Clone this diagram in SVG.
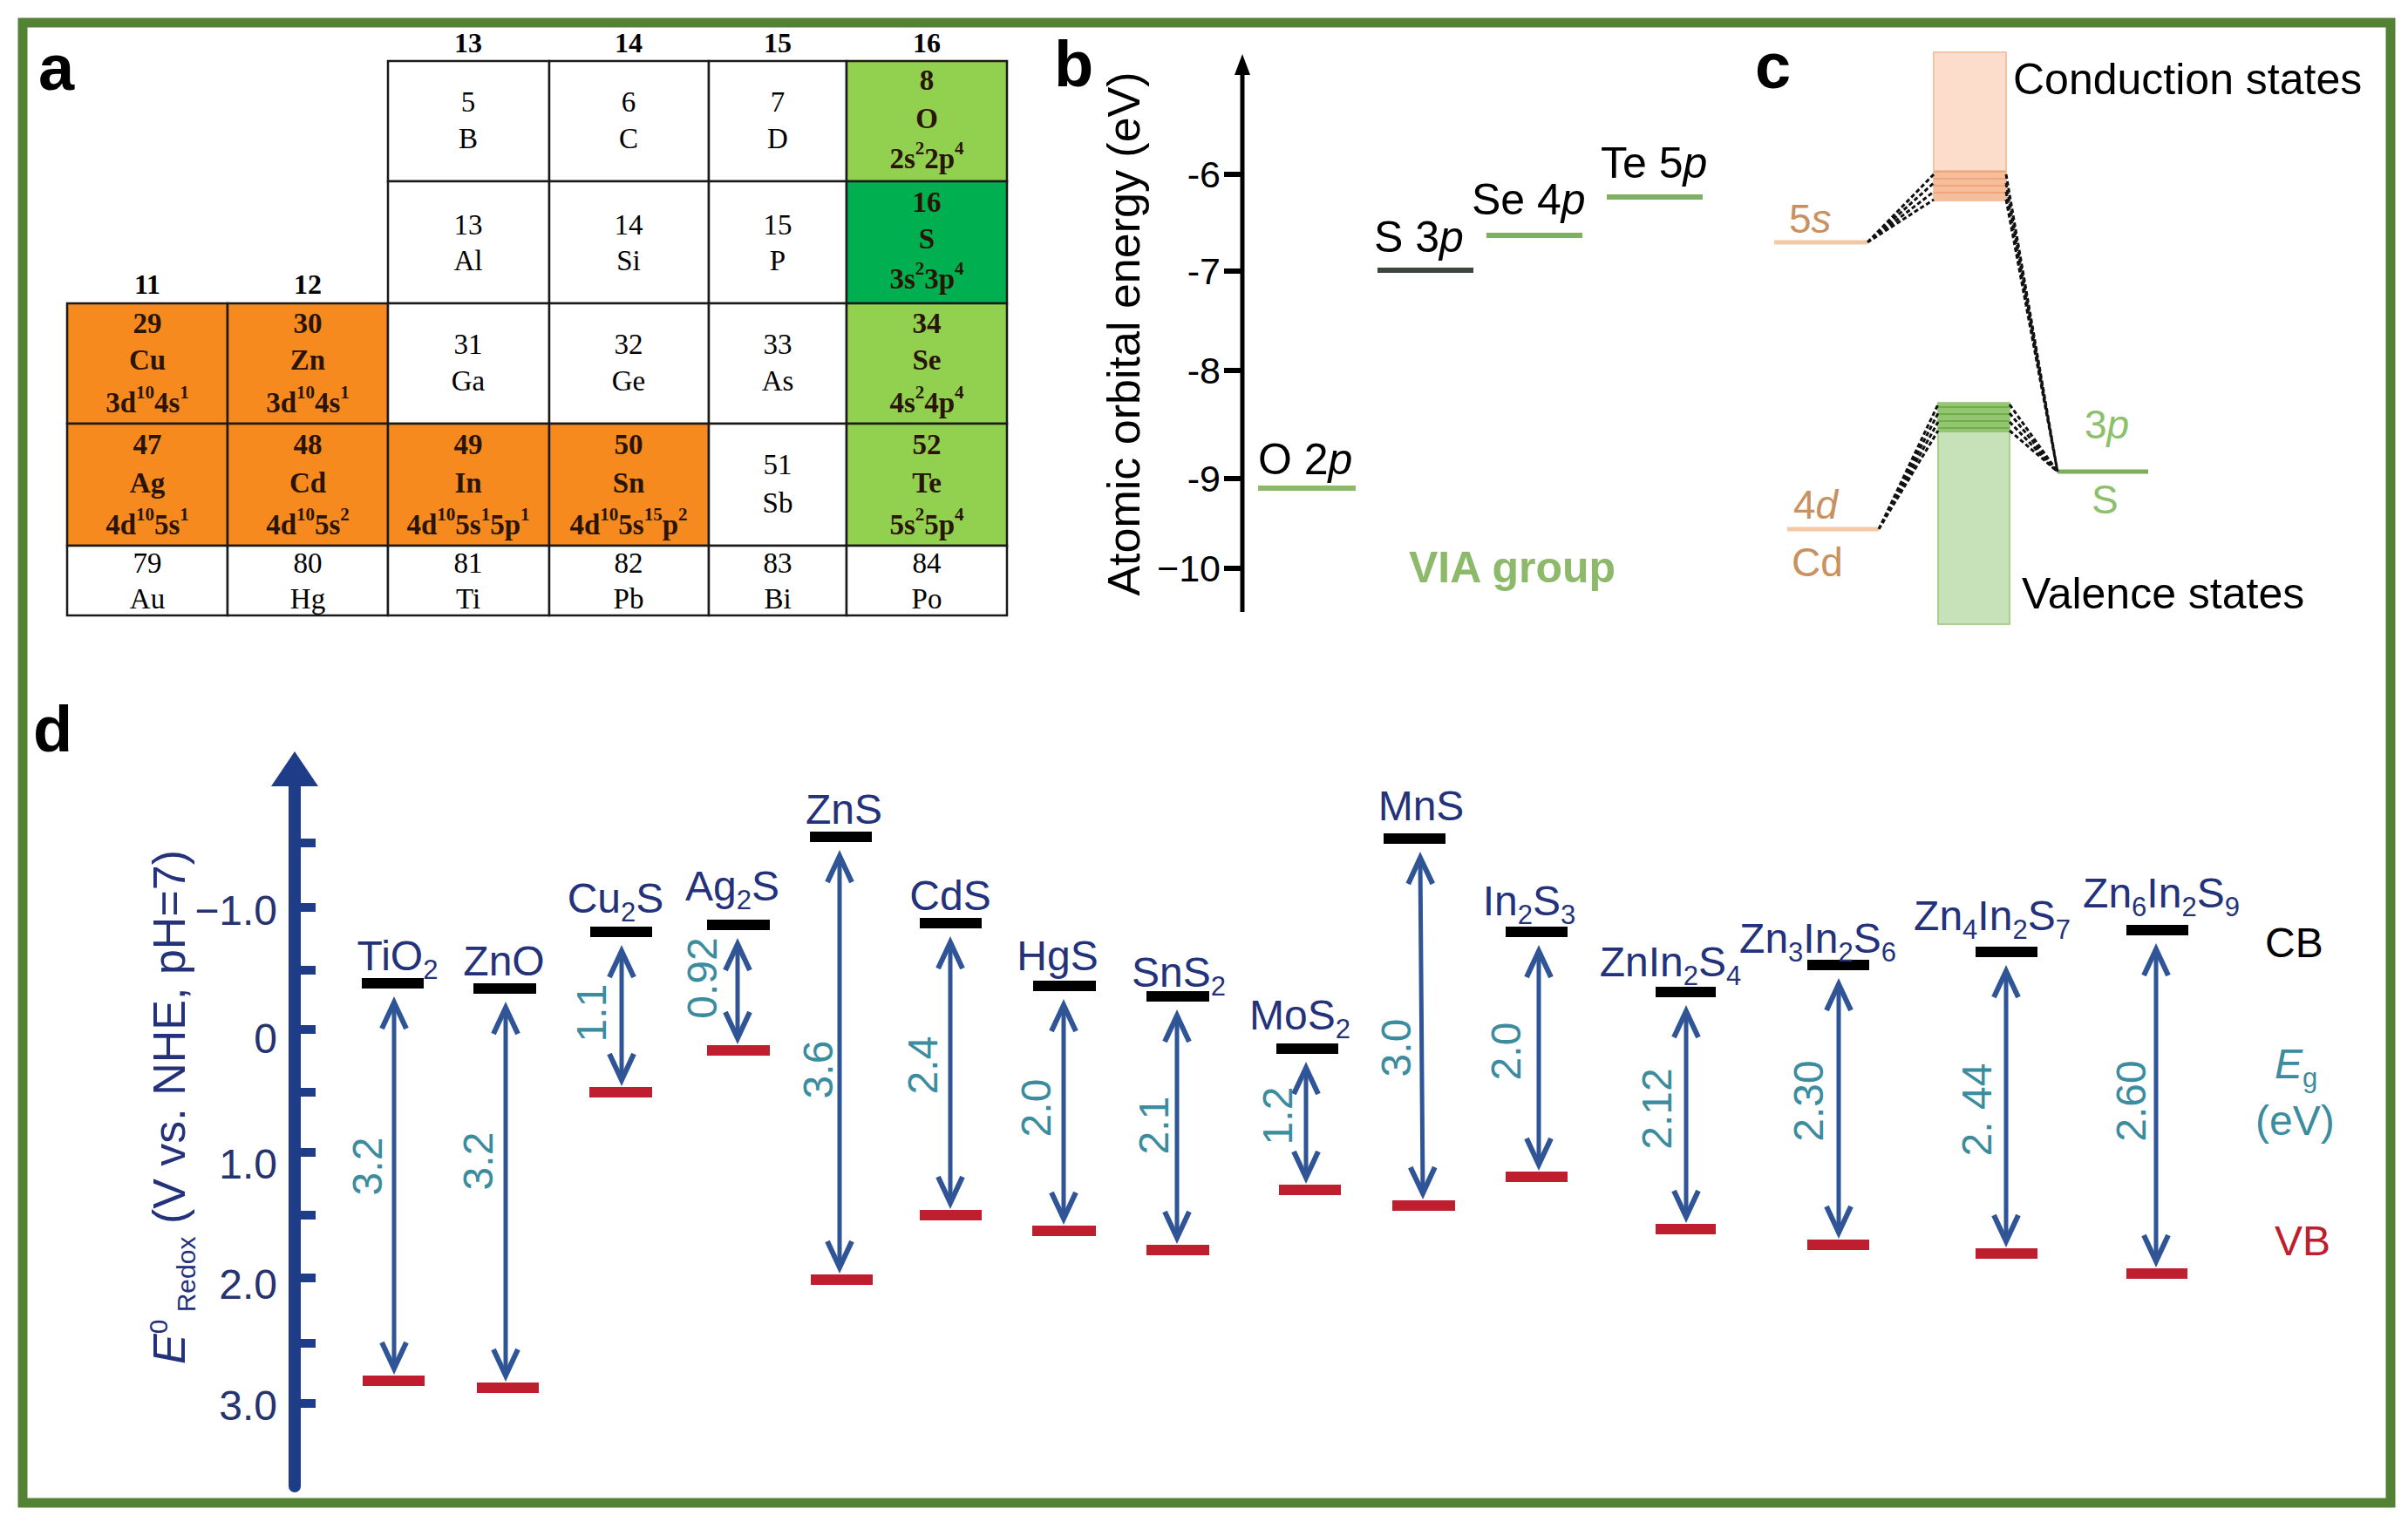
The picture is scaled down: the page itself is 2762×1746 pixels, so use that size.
<svg xmlns="http://www.w3.org/2000/svg" width="2762" height="1746" viewBox="0 0 2762 1746">
<defs>
<style>
.sans{font-family:"Liberation Sans",Arial,Helvetica,sans-serif}
.plabel{font-family:"Liberation Sans",Arial,sans-serif;font-weight:bold;font-size:74px;fill:#000}
.cell rect{stroke:#1a1a1a;stroke-width:2.5}
.cell text{font-family:"Liberation Serif","Times New Roman",serif;font-size:33px;text-anchor:middle;fill:#000}
.cell.b text{font-weight:bold;fill:#2A1405}
.sp{font-size:21px}
.or{fill:#F68A1F}.lg{fill:#92D050}.dg{fill:#00B050}.wh{fill:#fff}
.grp{font-family:"Liberation Serif","Times New Roman",serif;font-size:32px;font-weight:bold;text-anchor:middle;fill:#000}
.cb{fill:#000}.vb{fill:#BE1E2D}
.mat{font-family:"Liberation Sans",Arial,sans-serif;font-size:48px;fill:#23327A;text-anchor:middle}
.sub{font-size:31px}
.eg{font-family:"Liberation Sans",Arial,sans-serif;font-size:48px;fill:#3A8C9E;text-anchor:middle}
.arr{stroke:#2F5597;stroke-width:5;fill:none;marker-start:url(#ah);marker-end:url(#ah)}
.dash{stroke:#111;stroke-width:3;stroke-dasharray:5 3;fill:none}
.btxt{font-family:"Liberation Sans",Arial,sans-serif;font-size:50px;fill:#000}
.tick{font-family:"Liberation Sans",Arial,sans-serif;font-size:43px;fill:#000;text-anchor:end}
.dtick{font-family:"Liberation Sans",Arial,sans-serif;font-size:48px;fill:#26336E;text-anchor:end}
.ctxt{font-family:"Liberation Sans",Arial,sans-serif;font-size:50px;fill:#000}
.tan{font-family:"Liberation Sans",Arial,sans-serif;font-size:46px;fill:#C8915F}
.grn{font-family:"Liberation Sans",Arial,sans-serif;font-size:46px;fill:#8DC06A}
</style>
<marker id="ah" viewBox="-36 -20 44 40" refX="0" refY="0" markerWidth="44" markerHeight="40" markerUnits="userSpaceOnUse" orient="auto-start-reverse">
<path d="M-30,-14 L0,0 L-30,14" fill="none" stroke="#2F5597" stroke-width="6"/>
</marker>
</defs>
<rect x="0" y="0" width="2762" height="1746" fill="#fff"/>
<rect x="26" y="26" width="2716" height="1698" fill="none" stroke="#548235" stroke-width="11"/>

<!-- Panel labels -->
<text class="plabel" x="44" y="103">a</text>
<text class="plabel" x="1209" y="99">b</text>
<text class="plabel" x="2013" y="101">c</text>
<text class="plabel" x="38" y="862">d</text>

<!-- Panel a: periodic table -->
<g id="panel-a">
<text class="grp" x="537" y="60">13</text>
<text class="grp" x="721" y="60">14</text>
<text class="grp" x="892" y="60">15</text>
<text class="grp" x="1063" y="60">16</text>
<text class="grp" x="169" y="337">11</text>
<text class="grp" x="353" y="337">12</text>

<g id="cell-B" class="cell"><rect class="wh" x="445" y="70" width="185" height="138"/><text x="537" y="128">5</text><text x="537" y="170">B</text></g>
<g id="cell-C" class="cell"><rect class="wh" x="630" y="70" width="183" height="138"/><text x="721" y="128">6</text><text x="721" y="170">C</text></g>
<g id="cell-D" class="cell"><rect class="wh" x="813" y="70" width="158" height="138"/><text x="892" y="128">7</text><text x="892" y="170">D</text></g>
<g id="cell-O" class="cell b"><rect class="lg" x="971" y="70" width="184" height="138"/><text x="1063" y="103">8</text><text x="1063" y="147">O</text><text x="1063" y="193">2s<tspan class="sp" dy="-16">2</tspan><tspan dy="16">2p</tspan><tspan class="sp" dy="-16">4</tspan></text></g>

<g id="cell-Al" class="cell"><rect class="wh" x="445" y="208" width="185" height="140"/><text x="537" y="269">13</text><text x="537" y="310">Al</text></g>
<g id="cell-Si" class="cell"><rect class="wh" x="630" y="208" width="183" height="140"/><text x="721" y="269">14</text><text x="721" y="310">Si</text></g>
<g id="cell-P" class="cell"><rect class="wh" x="813" y="208" width="158" height="140"/><text x="892" y="269">15</text><text x="892" y="310">P</text></g>
<g id="cell-S" class="cell b"><rect class="dg" x="971" y="208" width="184" height="140"/><text x="1063" y="243">16</text><text x="1063" y="285">S</text><text x="1063" y="331">3s<tspan class="sp" dy="-16">2</tspan><tspan dy="16">3p</tspan><tspan class="sp" dy="-16">4</tspan></text></g>

<g id="cell-Cu" class="cell b"><rect class="or" x="77" y="348" width="184" height="138"/><text x="169" y="382">29</text><text x="169" y="424">Cu</text><text x="169" y="473">3d<tspan class="sp" dy="-16">10</tspan><tspan dy="16">4s</tspan><tspan class="sp" dy="-16">1</tspan></text></g>
<g id="cell-Zn" class="cell b"><rect class="or" x="261" y="348" width="184" height="138"/><text x="353" y="382">30</text><text x="353" y="424">Zn</text><text x="353" y="473">3d<tspan class="sp" dy="-16">10</tspan><tspan dy="16">4s</tspan><tspan class="sp" dy="-16">1</tspan></text></g>
<g id="cell-Ga" class="cell"><rect class="wh" x="445" y="348" width="185" height="138"/><text x="537" y="406">31</text><text x="537" y="448">Ga</text></g>
<g id="cell-Ge" class="cell"><rect class="wh" x="630" y="348" width="183" height="138"/><text x="721" y="406">32</text><text x="721" y="448">Ge</text></g>
<g id="cell-As" class="cell"><rect class="wh" x="813" y="348" width="158" height="138"/><text x="892" y="406">33</text><text x="892" y="448">As</text></g>
<g id="cell-Se" class="cell b"><rect class="lg" x="971" y="348" width="184" height="138"/><text x="1063" y="382">34</text><text x="1063" y="424">Se</text><text x="1063" y="473">4s<tspan class="sp" dy="-16">2</tspan><tspan dy="16">4p</tspan><tspan class="sp" dy="-16">4</tspan></text></g>

<g id="cell-Ag" class="cell b"><rect class="or" x="77" y="486" width="184" height="140"/><text x="169" y="521">47</text><text x="169" y="565">Ag</text><text x="169" y="613">4d<tspan class="sp" dy="-16">10</tspan><tspan dy="16">5s</tspan><tspan class="sp" dy="-16">1</tspan></text></g>
<g id="cell-Cd" class="cell b"><rect class="or" x="261" y="486" width="184" height="140"/><text x="353" y="521">48</text><text x="353" y="565">Cd</text><text x="353" y="613">4d<tspan class="sp" dy="-16">10</tspan><tspan dy="16">5s</tspan><tspan class="sp" dy="-16">2</tspan></text></g>
<g id="cell-In" class="cell b"><rect class="or" x="445" y="486" width="185" height="140"/><text x="537" y="521">49</text><text x="537" y="565">In</text><text x="537" y="613">4d<tspan class="sp" dy="-16">10</tspan><tspan dy="16">5s</tspan><tspan class="sp" dy="-16">1</tspan><tspan dy="16">5p</tspan><tspan class="sp" dy="-16">1</tspan></text></g>
<g id="cell-Sn" class="cell b"><rect class="or" x="630" y="486" width="183" height="140"/><text x="721" y="521">50</text><text x="721" y="565">Sn</text><text x="721" y="613">4d<tspan class="sp" dy="-16">10</tspan><tspan dy="16">5s</tspan><tspan class="sp" dy="-16">15</tspan><tspan dy="16">p</tspan><tspan class="sp" dy="-16">2</tspan></text></g>
<g id="cell-Sb" class="cell"><rect class="wh" x="813" y="486" width="158" height="140"/><text x="892" y="544">51</text><text x="892" y="588">Sb</text></g>
<g id="cell-Te" class="cell b"><rect class="lg" x="971" y="486" width="184" height="140"/><text x="1063" y="521">52</text><text x="1063" y="565">Te</text><text x="1063" y="613">5s<tspan class="sp" dy="-16">2</tspan><tspan dy="16">5p</tspan><tspan class="sp" dy="-16">4</tspan></text></g>

<g id="cell-Au" class="cell"><rect class="wh" x="77" y="626" width="184" height="80"/><text x="169" y="657">79</text><text x="169" y="698">Au</text></g>
<g id="cell-Hg" class="cell"><rect class="wh" x="261" y="626" width="184" height="80"/><text x="353" y="657">80</text><text x="353" y="698">Hg</text></g>
<g id="cell-Ti" class="cell"><rect class="wh" x="445" y="626" width="185" height="80"/><text x="537" y="657">81</text><text x="537" y="698">Ti</text></g>
<g id="cell-Pb" class="cell"><rect class="wh" x="630" y="626" width="183" height="80"/><text x="721" y="657">82</text><text x="721" y="698">Pb</text></g>
<g id="cell-Bi" class="cell"><rect class="wh" x="813" y="626" width="158" height="80"/><text x="892" y="657">83</text><text x="892" y="698">Bi</text></g>
<g id="cell-Po" class="cell"><rect class="wh" x="971" y="626" width="184" height="80"/><text x="1063" y="657">84</text><text x="1063" y="698">Po</text></g>
</g>

<!-- Panel b -->
<g id="panel-b">
<line x1="1425" y1="702" x2="1425" y2="80" stroke="#000" stroke-width="5"/>
<polygon points="1425,62 1416,86 1434,86" fill="#000"/>
<g stroke="#000" stroke-width="6">
<line x1="1404" y1="200" x2="1425" y2="200"/>
<line x1="1404" y1="311" x2="1425" y2="311"/>
<line x1="1404" y1="425" x2="1425" y2="425"/>
<line x1="1404" y1="549" x2="1425" y2="549"/>
<line x1="1404" y1="652" x2="1425" y2="652"/>
</g>
<text class="tick" x="1400" y="215">-6</text>
<text class="tick" x="1400" y="326">-7</text>
<text class="tick" x="1400" y="440">-8</text>
<text class="tick" x="1400" y="564">-9</text>
<text class="tick" x="1400" y="667">−10</text>
<text class="sans" x="1288" y="402" font-size="52" text-anchor="middle" transform="rotate(-90 1288 383)">Atomic orbital energy (eV)</text>
<g id="lvl-O2p"><line x1="1443" y1="560" x2="1555" y2="560" stroke="#8DB96B" stroke-width="6"/><text class="btxt" x="1443" y="544">O 2<tspan font-style="italic">p</tspan></text></g>
<g id="lvl-S3p"><line x1="1580" y1="310" x2="1690" y2="310" stroke="#3C463C" stroke-width="6"/><text class="btxt" x="1576" y="289">S 3<tspan font-style="italic">p</tspan></text></g>
<g id="lvl-Se4p"><line x1="1705" y1="270" x2="1815" y2="270" stroke="#7FB060" stroke-width="6"/><text class="btxt" x="1688" y="246">Se 4<tspan font-style="italic">p</tspan></text></g>
<g id="lvl-Te5p"><line x1="1843" y1="226" x2="1953" y2="226" stroke="#7FB060" stroke-width="6"/><text class="btxt" x="1836" y="204">Te 5<tspan font-style="italic">p</tspan></text></g>
<text class="sans" x="1616" y="668" font-size="50" font-weight="bold" fill="#8DB96B">VIA group</text>
</g>

<!-- Panel c -->
<g id="panel-c">
<g id="conduction-band">
<rect x="2218" y="60" width="83" height="170" fill="#FCDCCB" stroke="#F4C3A5" stroke-width="2"/>
<rect x="2218" y="195" width="83" height="35" fill="#F7BE9B"/>
<g stroke="#EFA57E" stroke-width="2"><line x1="2218" y1="197" x2="2301" y2="197"/><line x1="2218" y1="205" x2="2301" y2="205"/><line x1="2218" y1="213" x2="2301" y2="213"/><line x1="2218" y1="221" x2="2301" y2="221"/></g>
</g>
<g id="valence-band">
<rect x="2223" y="462" width="82" height="254" fill="#C7E1B8" stroke="#A9D08E" stroke-width="2"/>
<rect x="2223" y="462" width="82" height="34" fill="#93C572"/>
<g stroke="#6FAE48" stroke-width="2"><line x1="2223" y1="467" x2="2305" y2="467"/><line x1="2223" y1="475" x2="2305" y2="475"/><line x1="2223" y1="483" x2="2305" y2="483"/><line x1="2223" y1="491" x2="2305" y2="491"/></g>
</g>
<g id="lvl-5s"><line x1="2035" y1="278" x2="2142" y2="278" stroke="#F5C8A4" stroke-width="5"/><text class="tan" x="2052" y="267">5<tspan font-style="italic">s</tspan></text></g>
<g id="lvl-4d"><line x1="2050" y1="607" x2="2155" y2="607" stroke="#F5C8A4" stroke-width="5"/><text class="tan" x="2057" y="595">4<tspan font-style="italic">d</tspan></text><text class="tan" x="2055" y="661">Cd</text></g>
<g id="lvl-3p"><line x1="2360" y1="541" x2="2464" y2="541" stroke="#7DAE5C" stroke-width="5"/><text class="grn" x="2391" y="503">3<tspan font-style="italic">p</tspan></text><text class="grn" x="2399" y="589">S</text></g>
<text class="ctxt" x="2309" y="108">Conduction states</text>
<text class="ctxt" x="2319" y="698">Valence states</text>
</g>

<!-- Panel d -->
<g id="panel-d">
<g id="d-axis">
<line x1="338" y1="895" x2="338" y2="1705" stroke="#1F3C88" stroke-width="14" stroke-linecap="round"/>
<polygon points="338,862 311,902 365,902" fill="#1F3C88"/>
<g fill="#1F3C88">
<rect x="338" y="962" width="24" height="10"/>
<rect x="338" y="1036" width="24" height="10"/>
<rect x="338" y="1108" width="24" height="10"/>
<rect x="338" y="1176" width="24" height="10"/>
<rect x="338" y="1248" width="24" height="10"/>
<rect x="338" y="1317" width="24" height="10"/>
<rect x="338" y="1389" width="24" height="10"/>
<rect x="338" y="1461" width="24" height="10"/>
<rect x="338" y="1536" width="24" height="10"/>
<rect x="338" y="1605" width="24" height="10"/>
</g>
<text class="dtick" x="318" y="1061">−1.0</text>
<text class="dtick" x="318" y="1208">0</text>
<text class="dtick" x="318" y="1352">1.0</text>
<text class="dtick" x="318" y="1490">2.0</text>
<text class="dtick" x="318" y="1629">3.0</text>
<text class="sans" x="193" y="1289" font-size="52" fill="#23327A" text-anchor="middle" transform="rotate(-90 193 1270)"><tspan font-style="italic">E</tspan><tspan font-size="30" dy="-20">0</tspan><tspan font-size="30" dy="32"> Redox</tspan><tspan dy="-12"> (V vs. NHE, pH=7)</tspan></text>
</g>

<g id="m-TiO2"><rect class="cb" x="415" y="1122" width="71" height="12"/><rect class="vb" x="416" y="1578" width="71" height="12"/><text class="mat" x="456" y="1113">TiO<tspan class="sub" dy="10">2</tspan></text><text class="eg" x="421" y="1355" transform="rotate(-90 421 1338)">3.2</text></g>
<g id="m-ZnO"><rect class="cb" x="543" y="1128" width="72" height="12"/><rect class="vb" x="547" y="1586" width="71" height="12"/><text class="mat" x="578" y="1119">ZnO</text><text class="eg" x="548" y="1349" transform="rotate(-90 548 1332)">3.2</text></g>
<g id="m-Cu2S"><rect class="cb" x="677" y="1063" width="71" height="12"/><rect class="vb" x="676" y="1247" width="72" height="12"/><text class="mat" x="706" y="1047">Cu<tspan class="sub" dy="10">2</tspan><tspan dy="-10">S</tspan></text><text class="eg" x="678" y="1179" transform="rotate(-90 678 1162)">1.1</text></g>
<g id="m-Ag2S"><rect class="cb" x="811" y="1055" width="72" height="12"/><rect class="vb" x="811" y="1199" width="72" height="12"/><text class="mat" x="840" y="1033">Ag<tspan class="sub" dy="10">2</tspan><tspan dy="-10">S</tspan></text><text class="eg" x="805" y="1139" transform="rotate(-90 805 1122)">0.92</text></g>
<g id="m-ZnS"><rect class="cb" x="929" y="954" width="71" height="12"/><rect class="vb" x="930" y="1462" width="71" height="12"/><text class="mat" x="968" y="945">ZnS</text><text class="eg" x="938" y="1244" transform="rotate(-90 938 1227)">3.6</text></g>
<g id="m-CdS"><rect class="cb" x="1055" y="1053" width="71" height="12"/><rect class="vb" x="1055" y="1388" width="71" height="12"/><text class="mat" x="1090" y="1044">CdS</text><text class="eg" x="1058" y="1239" transform="rotate(-90 1058 1222)">2.4</text></g>
<g id="m-HgS"><rect class="cb" x="1185" y="1125" width="72" height="12"/><rect class="vb" x="1184" y="1406" width="73" height="12"/><text class="mat" x="1213" y="1113">HgS</text><text class="eg" x="1188" y="1288" transform="rotate(-90 1188 1271)">2.0</text></g>
<g id="m-SnS2"><rect class="cb" x="1315" y="1137" width="72" height="12"/><rect class="vb" x="1315" y="1428" width="72" height="12"/><text class="mat" x="1352" y="1132">SnS<tspan class="sub" dy="10">2</tspan></text><text class="eg" x="1323" y="1308" transform="rotate(-90 1323 1291)">2.1</text></g>
<g id="m-MoS2"><rect class="cb" x="1464" y="1197" width="71" height="12"/><rect class="vb" x="1467" y="1359" width="71" height="12"/><text class="mat" x="1491" y="1181">MoS<tspan class="sub" dy="10">2</tspan></text><text class="eg" x="1465" y="1297" transform="rotate(-90 1465 1280)">1.2</text></g>
<g id="m-MnS"><rect class="cb" x="1587" y="956" width="71" height="12"/><rect class="vb" x="1597" y="1377" width="72" height="12"/><text class="mat" x="1630" y="941">MnS</text><text class="eg" x="1601" y="1219" transform="rotate(-90 1601 1202)">3.0</text></g>
<g id="m-In2S3"><rect class="cb" x="1727" y="1063" width="71" height="12"/><rect class="vb" x="1727" y="1344" width="71" height="12"/><text class="mat" x="1754" y="1050">In<tspan class="sub" dy="10">2</tspan><tspan dy="-10">S</tspan><tspan class="sub" dy="10">3</tspan></text><text class="eg" x="1727" y="1223" transform="rotate(-90 1727 1206)">2.0</text></g>
<g id="m-ZnIn2S4"><rect class="cb" x="1899" y="1132" width="69" height="12"/><rect class="vb" x="1899" y="1404" width="69" height="12"/><text class="mat" x="1916" y="1120">ZnIn<tspan class="sub" dy="10">2</tspan><tspan dy="-10">S</tspan><tspan class="sub" dy="10">4</tspan></text><text class="eg" x="1900" y="1289" transform="rotate(-90 1900 1272)">2.12</text></g>
<g id="m-Zn3In2S6"><rect class="cb" x="2073" y="1101" width="71" height="12"/><rect class="vb" x="2073" y="1422" width="71" height="12"/><text class="mat" x="2085" y="1093">Zn<tspan class="sub" dy="10">3</tspan><tspan dy="-10">In</tspan><tspan class="sub" dy="10">2</tspan><tspan dy="-10">S</tspan><tspan class="sub" dy="10">6</tspan></text><text class="eg" x="2074" y="1280" transform="rotate(-90 2074 1263)">2.30</text></g>
<g id="m-Zn4In2S7"><rect class="cb" x="2266" y="1086" width="71" height="12"/><rect class="vb" x="2266" y="1432" width="71" height="12"/><text class="mat" x="2285" y="1067">Zn<tspan class="sub" dy="10">4</tspan><tspan dy="-10">In</tspan><tspan class="sub" dy="10">2</tspan><tspan dy="-10">S</tspan><tspan class="sub" dy="10">7</tspan></text><text class="eg" x="2267" y="1290" transform="rotate(-90 2267 1273)">2. 44</text></g>
<g id="m-Zn6In2S9"><rect class="cb" x="2439" y="1061" width="71" height="12"/><rect class="vb" x="2439" y="1455" width="70" height="12"/><text class="mat" x="2479" y="1041">Zn<tspan class="sub" dy="10">6</tspan><tspan dy="-10">In</tspan><tspan class="sub" dy="10">2</tspan><tspan dy="-10">S</tspan><tspan class="sub" dy="10">9</tspan></text><text class="eg" x="2444" y="1280" transform="rotate(-90 2444 1263)">2.60</text></g>

<g id="legend-d">
<text class="sans" x="2598" y="1098" font-size="48" fill="#000">CB</text>
<text class="sans" x="2609" y="1237" font-size="48" fill="#3A8C9E"><tspan font-style="italic">E</tspan><tspan font-size="31" dy="10">g</tspan></text>
<text class="sans" x="2587" y="1302" font-size="48" fill="#3A8C9E">(eV)</text>
<text class="sans" x="2609" y="1440" font-size="48" fill="#BE1E2D">VB</text>
</g>
</g>

<!-- Connectors -->
<g id="connectors">
<line class="arr" x1="452" y1="1150" x2="452" y2="1570"/>
<line class="arr" x1="580" y1="1156" x2="580" y2="1578"/>
<line class="arr" x1="713" y1="1091" x2="713" y2="1239"/>
<line class="arr" x1="846" y1="1083" x2="846" y2="1191"/>
<line class="arr" x1="963" y1="982" x2="963" y2="1454"/>
<line class="arr" x1="1090" y1="1081" x2="1090" y2="1380"/>
<line class="arr" x1="1220" y1="1153" x2="1220" y2="1398"/>
<line class="arr" x1="1350" y1="1165" x2="1350" y2="1420"/>
<line class="arr" x1="1498" y1="1225" x2="1498" y2="1351"/>
<line class="arr" x1="1629" y1="984" x2="1632" y2="1369"/>
<line class="arr" x1="1765" y1="1091" x2="1765" y2="1336"/>
<line class="arr" x1="1934" y1="1160" x2="1934" y2="1396"/>
<line class="arr" x1="2109" y1="1129" x2="2109" y2="1414"/>
<line class="arr" x1="2301" y1="1114" x2="2301" y2="1424"/>
<line class="arr" x1="2473" y1="1089" x2="2473" y2="1447"/>
<g id="c-dashes">
<path class="dash" d="M2142,278 L2218,200 M2142,278 L2218,210 M2142,278 L2218,220 M2142,278 L2218,229"/>
<path class="dash" d="M2301,200 L2360,541 M2301,210 L2360,541 M2301,220 L2360,541 M2301,229 L2360,541"/>
<path class="dash" d="M2155,607 L2223,464 M2155,607 L2223,474 M2155,607 L2223,484 M2155,607 L2223,494"/>
<path class="dash" d="M2305,464 L2360,541 M2305,474 L2360,541 M2305,484 L2360,541 M2305,494 L2360,541"/>
</g>
</g>
</svg>
